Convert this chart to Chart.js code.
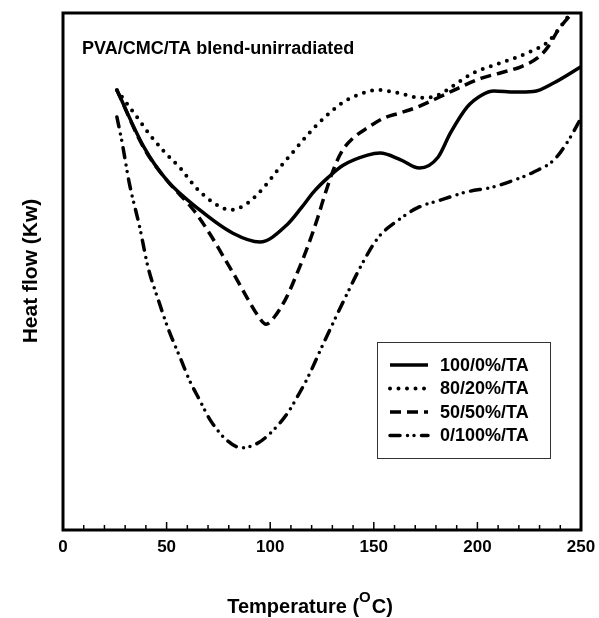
<!DOCTYPE html>
<html>
<head>
<meta charset="utf-8">
<script src="https://cdn.jsdelivr.net/npm/chart.js@4/dist/chart.umd.min.js"></script>
<style>
  body { margin: 0; background: #fff; }
</style>
</head>
<body>
<canvas id="dscChart" width="599" height="618"></canvas>
<script>
//temperature (x) and heat flow (y, arbitrary units)
var temp100 = [26, 39, 50, 66, 82, 95, 108, 115, 121, 128, 135, 147, 153, 163, 172, 181, 187, 195, 202, 208, 218, 227, 237, 250];
var flow100 = [85.1, 74.1, 67.7, 61.9, 57.4, 55.7, 59.0, 62.3, 65.4, 68.2, 70.5, 72.5, 72.9, 71.6, 70.0, 72.1, 76.8, 81.8, 84.1, 84.9, 84.7, 84.8, 86.5, 89.6];

var temp80 = [26, 36, 42, 49, 57, 64, 73, 81, 89, 97, 104, 111, 118, 126, 134, 142, 152, 160, 173, 181, 189, 198, 208, 218, 227, 234, 240, 246, 250];
var flow80 = [85.1, 79.7, 76.4, 73.1, 69.8, 66.3, 63.2, 61.9, 63.2, 66.3, 69.8, 73.1, 76.4, 79.7, 82.4, 84.1, 85.1, 84.7, 83.6, 84.1, 86.1, 88.4, 89.9, 91.3, 92.8, 94.4, 97.3, 100.6, 103];

var temp50 = [26, 39, 50, 63, 71, 79, 84, 89, 94, 98, 102, 108, 113, 118, 123, 126, 131, 135, 140, 147, 155, 163, 171, 182, 192, 202, 211, 221, 229, 234, 239, 244, 247, 250];
var flow50 = [85.1, 73.9, 67.7, 61.9, 57.2, 51.8, 48.4, 44.8, 41.5, 39.8, 41.2, 45.1, 49.7, 54.7, 60.5, 64.4, 70.2, 73.5, 75.8, 77.8, 79.7, 80.7, 81.8, 83.8, 85.7, 87.4, 88.4, 89.6, 91.3, 93.4, 96.7, 99.2, 100.6, 103];

var temp0 = [26, 28.5, 32, 37, 41, 46, 51, 57, 61, 66, 71, 79, 86, 94, 102, 108, 114, 119, 124, 131, 137, 144, 152, 162, 171, 182, 195, 207, 218, 227, 237, 244, 250];
var flow0 = [79.9, 75.0, 67.1, 58.6, 50.9, 44.5, 38.7, 32.9, 29.0, 25.1, 21.3, 17.4, 15.9, 16.8, 19.5, 22.4, 26.4, 30.2, 34.6, 40.6, 45.6, 51.2, 56.5, 60.0, 62.3, 63.8, 65.4, 66.3, 67.7, 69.2, 71.6, 75.4, 79.7];

var seriesLabels = ["100/0%/TA", "80/20%/TA", "50/50%/TA", "0/100%/TA"];
var xTicks = [0, 50, 100, 150, 200, 250];

var FONT = "'Liberation Sans', Arial, sans-serif";

//turn x/y arrays into point objects
function toPoints(xs, ys) {
  var pts = [];
  for (var i = 0; i < xs.length; i++) {
    pts.push({ x: xs[i], y: ys[i] });
  }
  return pts;
}

var styles = [
  { dash: [], cap: "butt", width: 3.5 },
  { dash: [0, 8.5], cap: "round", width: 4 },
  { dash: [11, 6], cap: "butt", width: 3.5 },
  { dash: [10, 7.5, 0, 6.5, 0, 7.5], cap: "round", width: 3.5 }
];
var allX = [temp100, temp80, temp50, temp0];
var allY = [flow100, flow80, flow50, flow0];

var dscDatasets = [];
for (var s = 0; s < seriesLabels.length; s++) {
  dscDatasets.push({
    label: seriesLabels[s],
    data: toPoints(allX[s], allY[s]),
    borderColor: "#000",
    borderWidth: styles[s].width,
    borderDash: styles[s].dash,
    borderCapStyle: styles[s].cap,
    pointRadius: 0,
    cubicInterpolationMode: "monotone",
    fill: false
  });
}

//frame, inward ticks, texts and the boxed legend
var decorate = {
  id: "decorate",
  afterDraw: function (chart) {
    var ctx = chart.ctx;
    var a = chart.chartArea;
    var xs = chart.scales.x;
    ctx.save();

    //minor/major ticks on the bottom axis
    ctx.strokeStyle = "#000";
    ctx.lineWidth = 1.5;
    for (var v = 0; v <= 250; v += 10) {
      var px = xs.getPixelForValue(v);
      var len = (v % 50 === 0) ? 8 : 5;
      ctx.beginPath();
      ctx.moveTo(px, a.bottom);
      ctx.lineTo(px, a.bottom - len);
      ctx.stroke();
    }

    //box around plot
    ctx.lineWidth = 3;
    ctx.strokeRect(a.left, a.top, a.right - a.left, a.bottom - a.top);

    ctx.fillStyle = "#000";
    ctx.textBaseline = "alphabetic";

    //inner title
    ctx.font = "bold 18px " + FONT;
    ctx.textAlign = "left";
    ctx.fillText("PVA/CMC/TA blend-unirradiated", 82, 54);

    //x title with superscript
    ctx.font = "bold 20px " + FONT;
    var p1 = "Temperature (";
    var p3 = "C)";
    var w1 = ctx.measureText(p1).width;
    var w3 = ctx.measureText(p3).width;
    ctx.font = "bold 15px " + FONT;
    var w2 = ctx.measureText("O").width + 1;
    var total = w1 + w2 + w3;
    var sx = 310 - total / 2;
    ctx.font = "bold 20px " + FONT;
    ctx.fillText(p1, sx, 613);
    ctx.font = "bold 15px " + FONT;
    ctx.fillText("O", sx + w1, 602);
    ctx.font = "bold 20px " + FONT;
    ctx.fillText(p3, sx + w1 + w2, 613);

    //y title
    ctx.save();
    ctx.translate(37, 271);
    ctx.rotate(-Math.PI / 2);
    ctx.textAlign = "center";
    ctx.font = "bold 21px " + FONT;
    ctx.fillText("Heat flow (Kw)", 0, 0);
    ctx.restore();

    //legend
    ctx.lineWidth = 1;
    ctx.strokeStyle = "#333";
    ctx.strokeRect(377.5, 342.5, 173, 116);
    ctx.font = "bold 18px " + FONT;
    ctx.textBaseline = "middle";
    for (var i = 0; i < chart.data.datasets.length; i++) {
      var ds = chart.data.datasets[i];
      var ly = 365 + i * 23.5;
      ctx.strokeStyle = "#000";
      ctx.lineWidth = ds.borderWidth;
      ctx.lineCap = ds.borderCapStyle;
      ctx.setLineDash(ds.borderDash);
      ctx.beginPath();
      ctx.moveTo(390, ly);
      ctx.lineTo(428, ly);
      ctx.stroke();
      ctx.setLineDash([]);
      ctx.fillText(ds.label, 440, ly + 1);
    }
    ctx.restore();
  }
};

var ctx = document.getElementById("dscChart").getContext("2d");
var dscChart = new Chart(ctx, {
  type: "line",
  data: { datasets: dscDatasets },
  options: {
    responsive: false,
    animation: false,
    devicePixelRatio: 1,
    layout: { padding: { top: 13, right: 18, left: 0, bottom: 0 } },
    plugins: {
      legend: { display: false },
      tooltip: { enabled: false }
    },
    scales: {
      x: {
        type: "linear",
        min: 0,
        max: 250,
        afterBuildTicks: function (scale) {
          scale.ticks = xTicks.map(function (v) { return { value: v }; });
        },
        afterFit: function (scale) {
          scale.height = 88;
          scale.paddingRight = 0;
          scale.paddingLeft = 0;
        },
        grid: { display: false, drawTicks: false },
        border: { display: false },
        ticks: {
          color: "#000",
          padding: 7,
          maxRotation: 0,
          font: { family: FONT, size: 17, weight: "bold" }
        }
      },
      y: {
        min: 0,
        max: 100,
        afterFit: function (scale) { scale.width = 63; },
        grid: { display: false, drawTicks: false },
        border: { display: false },
        ticks: { display: false }
      }
    }
  },
  plugins: [decorate]
});
</script>
</body>
</html>
